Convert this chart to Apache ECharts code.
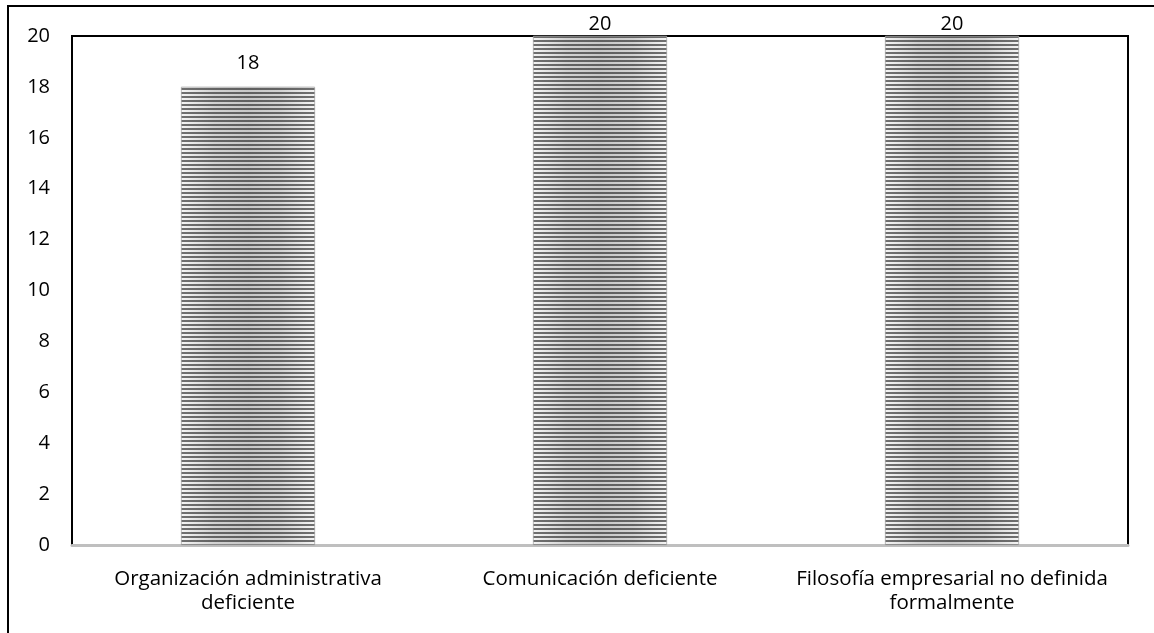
<!DOCTYPE html>
<html>
<head>
<meta charset="utf-8">
<script src="https://cdn.jsdelivr.net/npm/echarts@6/dist/echarts.min.js"></script>
<style>
  html, body { margin: 0; padding: 0; background: #fff; }
  #wrap { position: relative; width: 1154px; height: 633px; overflow: hidden; }
  #frame { position: absolute; left: 7px; top: 5px; width: 1200px; height: 700px;
           border-left: 2px solid #000; border-top: 2px solid #000; box-sizing: border-box; }
  #chart { position: absolute; left: 0; top: 0; width: 1154px; height: 633px; }
</style>
</head>
<body>
<div id="wrap">
  <div id="frame"></div>
  <div id="chart"></div>
</div>
<script>
// Problem categories and how many times each was reported
const categories = [
  'Organización administrativa\ndeficiente',
  'Comunicación deficiente',
  'Filosofía empresarial no definida\nformalmente'
];
const values = [18, 20, 20];
const yTicks = { min: 0, max: 20, interval: 2 };

const FONT = '"Open Sans", sans-serif';

// Light body of each bar: pale at the edges, greyer in the middle
const barBody = new echarts.graphic.LinearGradient(0, 0, 1, 0, [
  { offset: 0, color: '#f4f4f4' },
  { offset: 0.25, color: '#d2d2d2' },
  { offset: 0.5, color: '#c8c8c8' },
  { offset: 0.75, color: '#d2d2d2' },
  { offset: 1, color: '#f4f4f4' }
]);

const chart = echarts.init(document.getElementById('chart'), null, { renderer: 'canvas' });
chart.setOption({
  animation: false,
  grid: {
    left: 72, right: 26, top: 36, bottom: 88,
    show: true, borderColor: '#000', borderWidth: 2, backgroundColor: 'transparent'
  },
  xAxis: {
    type: 'category',
    data: categories,
    axisLine: { show: true, lineStyle: { color: '#bfbfbf', width: 3 } },
    axisTick: { show: false },
    axisLabel: {
      color: '#000', fontFamily: FONT, fontSize: 20.5, lineHeight: 24,
      margin: 22, interval: 0
    }
  },
  yAxis: {
    type: 'value',
    min: yTicks.min, max: yTicks.max, interval: yTicks.interval,
    axisLine: { show: false },
    axisTick: { show: false },
    splitLine: { show: false },
    axisLabel: { color: '#000', fontFamily: FONT, fontSize: 20, margin: 22 }
  },
  series: [{
    type: 'bar',
    data: values.map((v, i) => ({
      value: v,
      label: { distance: v === yTicks.max ? 2 : 14 }
    })),
    barWidth: '38%',
    itemStyle: {
      color: barBody,
      borderColor: '#a8a8a8',
      borderWidth: 0.5,
      decal: {
        symbol: 'rect',
        symbolSize: 1,
        dashArrayX: [1, 0],
        dashArrayY: [2, 2],
        rotation: 0,
        color: 'rgba(40,40,40,0.65)'
      }
    },
    label: {
      show: true, position: 'top', color: '#000',
      fontFamily: FONT, fontSize: 20
    }
  }]
});
</script>
</body>
</html>
